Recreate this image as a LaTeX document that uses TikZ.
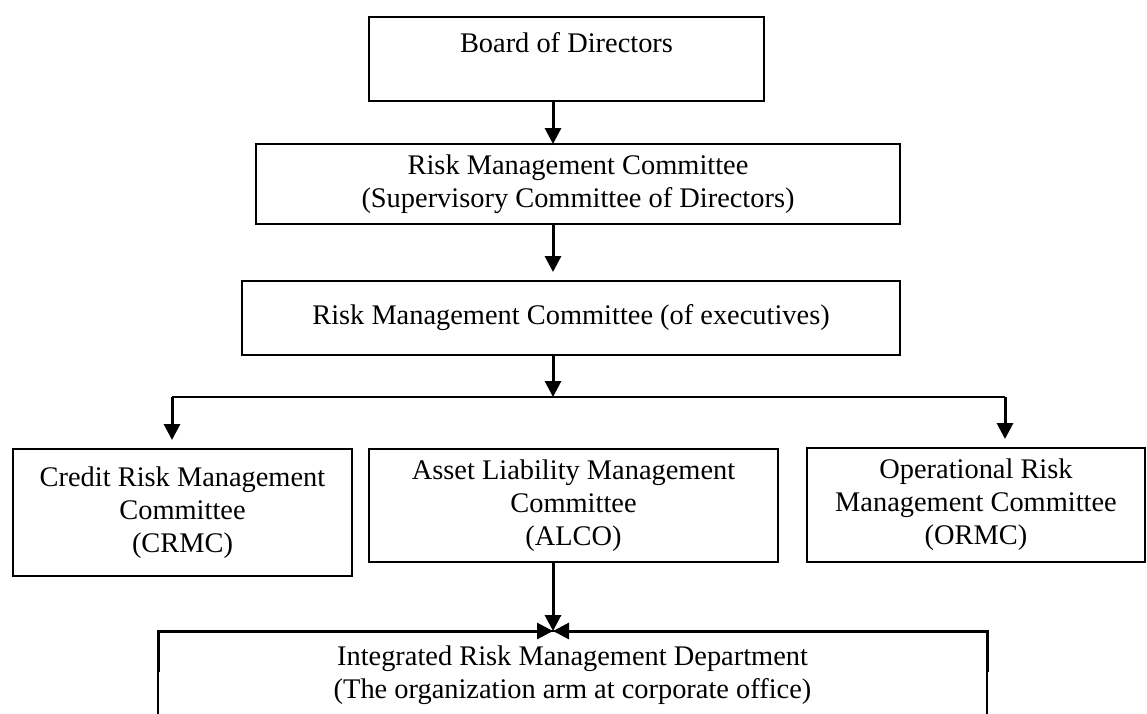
\documentclass[tikz,border=0pt]{standalone}
\usepackage{fontspec}
\setmainfont{Liberation Serif}
\usetikzlibrary{arrows.meta}

\begin{document}
\begin{tikzpicture}[x=0.5pt, y=-0.5pt,
    box/.style={draw, rectangle, line width=0.6pt, align=center, inner sep=0pt, outer sep=0pt},
    link/.style={line width=1.5pt, -{Triangle[length=8pt, width=8pt]}},
    font=\fontsize{14.2}{16.5}\selectfont]

    \path[use as bounding box, clip] (0,0) rectangle (1147,713);

    % Draw the board
    \node[box, minimum width=197.5pt, minimum height=42pt] (board) at (566.5,59) {Board of Directors\\ \mbox{}};

    % Draw the committees
    \node[box, minimum width=322pt, minimum height=40pt] (rmcsup) at (578,184) {Risk Management Committee\\(Supervisory Committee of Directors)};
    \node[box, minimum width=329pt, minimum height=37pt] (rmcexec) at (571,318) {Risk Management Committee (of executives)};

    % Draw the sub committees
    \node[box, minimum width=169.5pt, minimum height=63.5pt] (crmc) at (182.5,512.5) {Credit Risk Management\\Committee\\(CRMC)};
    \node[box, minimum width=204.5pt, minimum height=56.5pt] (alco) at (573.5,505.5) {Asset Liability Management\\Committee\\(ALCO)};
    \node[box, minimum width=169pt, minimum height=57pt] (ormc) at (976,505) {Operational Risk\\Management Committee\\(ORMC)};

    % Draw the department
    \node[box, anchor=north, minimum width=414.5pt, inner ysep=7.5pt] (irmd) at (572.5,631) {Integrated Risk Management Department\\(The organization arm at corporate office)};

    % Draw connections
    \coordinate (stem) at (553,397);
    \coordinate (lft) at (172,397);
    \coordinate (rgt) at (1005,397);
    \draw[link] (board.south -| stem) -- (rmcsup.north -| stem);
    \draw[link, shorten >=4.5pt] (rmcsup.south -| stem) -- (rmcexec.north -| stem);
    \draw[link] (rmcexec.south -| stem) -- (stem);
    \draw[line width=0.6pt] (lft) -- (rgt);
    \draw[link, shorten >=4.5pt] (lft) -- (lft |- crmc.north);
    \draw[link, shorten >=4.5pt] (rgt) -- (rgt |- ormc.north);
    \draw[link] (alco.south -| stem) -- (irmd.north -| stem);
    \draw[link] ([yshift=-20.5pt]irmd.north west) |- (irmd.north -| stem);
    \draw[link] ([yshift=-20.5pt]irmd.north east) |- (irmd.north -| stem);

\end{tikzpicture}
\end{document}
